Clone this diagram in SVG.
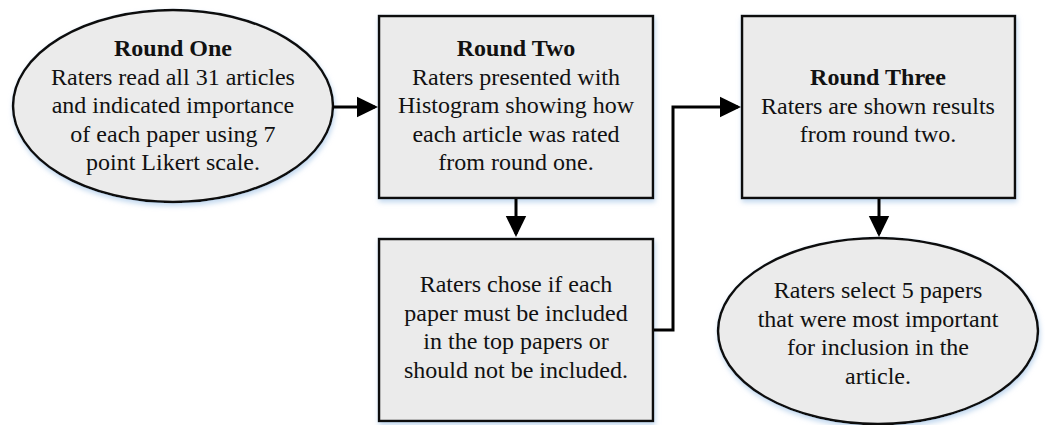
<svg xmlns="http://www.w3.org/2000/svg" width="1045" height="425" viewBox="0 0 1045 425">
<style>
.shape{fill:#ebebeb;stroke:#111;stroke-width:2.5;filter:url(#sh)}
.t{font-family:"Liberation Serif","Times New Roman",serif;font-size:24px;fill:#111;text-anchor:middle}
.b{font-weight:bold}
.c{fill:none;stroke:#000;stroke-width:3}
</style>
<defs>
<filter id="sh" x="-10%" y="-10%" width="125%" height="130%">
<feGaussianBlur in="SourceAlpha" stdDeviation="2.5"/>
<feOffset dx="1" dy="3" result="o"/>
<feFlood flood-color="#a9c8e8" flood-opacity="0.7"/>
<feComposite in2="o" operator="in"/>
<feMerge><feMergeNode/><feMergeNode in="SourceGraphic"/></feMerge>
</filter>
<marker id="ah" markerWidth="8" markerHeight="8" refX="6" refY="3.4" orient="auto" markerUnits="strokeWidth" overflow="visible">
<path d="M0,0 L7,3.4 L0,6.8 Z" fill="#000"/>
</marker>
</defs>
<g id="round-one">
<ellipse class="shape" cx="173" cy="106" rx="160" ry="96"/>
<text class="t b" x="173" y="56">Round One</text>
<text class="t" x="173" y="85">Raters read all 31 articles</text>
<text class="t" x="173" y="113">and indicated importance</text>
<text class="t" x="173" y="142">of each paper using 7</text>
<text class="t" x="173" y="170">point Likert scale.</text>
</g>
<g id="round-two">
<rect class="shape" x="379" y="16" width="274" height="182"/>
<text class="t b" x="516" y="56">Round Two</text>
<text class="t" x="516" y="85">Raters presented with</text>
<text class="t" x="516" y="113">Histogram showing how</text>
<text class="t" x="516" y="142">each article was rated</text>
<text class="t" x="516" y="170">from round one.</text>
</g>
<g id="choose">
<rect class="shape" x="379" y="239" width="274" height="182"/>
<text class="t" x="516" y="292">Raters chose if each</text>
<text class="t" x="516" y="321">paper must be included</text>
<text class="t" x="516" y="349">in the top papers or</text>
<text class="t" x="516" y="378">should not be included.</text>
</g>
<g id="round-three">
<rect class="shape" x="742" y="16" width="273" height="182"/>
<text class="t b" x="878" y="85">Round Three</text>
<text class="t" x="878" y="114">Raters are shown results</text>
<text class="t" x="878" y="142">from round two.</text>
</g>
<g id="select">
<ellipse class="shape" cx="878" cy="331" rx="160" ry="93"/>
<text class="t" x="878" y="298">Raters select 5 papers</text>
<text class="t" x="878" y="327">that were most important</text>
<text class="t" x="878" y="355">for inclusion in the</text>
<text class="t" x="878" y="384">article.</text>
</g>
<g id="connectors">
<path class="c" d="M333,107 H375" marker-end="url(#ah)"/>
<path class="c" d="M516,199 V234" marker-end="url(#ah)"/>
<path class="c" d="M654,330 H673 V107 H738" marker-end="url(#ah)"/>
<path class="c" d="M879,199 V234" marker-end="url(#ah)"/>
</g>
</svg>
